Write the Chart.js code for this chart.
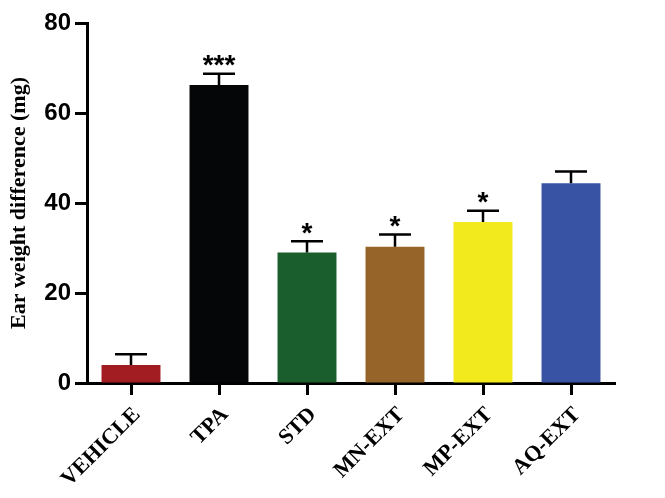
<!DOCTYPE html>
<html lang="en">
  <head>
    <meta charset="UTF-8" />
    <title>Ear weight difference</title>
    <script src="https://cdn.jsdelivr.net/npm/chart.js@4.4.0/dist/chart.umd.min.js"></script>
    <style>
      body { margin: 0; background: #fff; }
      #wrap { width: 665px; height: 498px; }
    </style>
  </head>
  <body>
    <div id="wrap">
      <canvas id="myChart" width="665" height="498"></canvas>
    </div>

    <script>
      // groups
      const groups = ["VEHICLE", "TPA", "STD", "MN-EXT", "MP-EXT", "AQ-EXT"];
      // mean ear weight difference (mg)
      const means = [4.0, 66.2, 29.0, 30.3, 35.8, 44.4];
      // error (SEM), upper only
      const errors = [2.4, 2.5, 2.5, 2.7, 2.5, 2.6];
      // significance marks
      const stars = ["", "***", "*", "*", "*", ""];
      const barColors = ["#a21d21", "#050608", "#1b5e2e", "#966428", "#f2ea1d", "#3953a4"];
      const yTicks = [0, 20, 40, 60, 80];

      // draws error bars + stars above each bar
      const errorBarPlugin = {
        id: "errorBars",
        afterDatasetsDraw(chart) {
          const ctx = chart.ctx;
          const meta = chart.getDatasetMeta(0);
          const y = chart.scales.y;
          ctx.save();
          ctx.strokeStyle = "#000";
          ctx.lineWidth = 2.5;
          meta.data.forEach((bar, i) => {
            const top = y.getPixelForValue(means[i] + errors[i]);
            const base = y.getPixelForValue(means[i]);
            ctx.beginPath();
            ctx.moveTo(bar.x, base);
            ctx.lineTo(bar.x, top);
            ctx.moveTo(bar.x - 16, top);
            ctx.lineTo(bar.x + 16, top);
            ctx.stroke();
            if (stars[i]) {
              ctx.font = "bold 28px 'Liberation Sans', Arial, sans-serif";
              ctx.fillStyle = "#000";
              ctx.textAlign = "center";
              ctx.textBaseline = "alphabetic";
              const m = ctx.measureText(stars[i]);
              const mid = (m.actualBoundingBoxAscent - m.actualBoundingBoxDescent) / 2;
              ctx.fillText(stars[i], bar.x, top - 13 + mid);
            }
          });
          ctx.restore();
        },
      };

      const ctx = document.getElementById("myChart").getContext("2d");
      const myChart = new Chart(ctx, {
        type: "bar",
        data: {
          labels: groups,
          datasets: [
            {
              data: means,
              backgroundColor: barColors,
              borderWidth: 0,
              barPercentage: 0.67,
              categoryPercentage: 1.0,
            },
          ],
        },
        options: {
          responsive: false,
          animation: false,
          layout: { padding: { top: 23, right: 50, left: 6, bottom: 0 } },
          plugins: { legend: { display: false }, tooltip: { enabled: false } },
          scales: {
            x: {
              offset: true,
              border: { color: "#000", width: 3 },
              grid: {
                drawOnChartArea: false,
                drawTicks: true,
                tickLength: 12,
                tickWidth: 3,
                tickColor: "#000",
                offset: false,
              },
              ticks: {
                color: "#000",
                maxRotation: 45,
                minRotation: 45,
                padding: 7,
                labelOffset: 6,
                font: { family: "'Liberation Serif', 'Times New Roman', serif", weight: "bold", size: 22 },
              },
              afterFit(scale) { scale.height = 115; },
            },
            y: {
              min: 0,
              max: 80,
              border: { color: "#000", width: 3 },
              grid: {
                drawOnChartArea: false,
                drawTicks: true,
                tickLength: 12,
                tickWidth: 3,
                tickColor: "#000",
              },
              afterBuildTicks(scale) {
                scale.ticks = yTicks.map((v) => ({ value: v }));
              },
              ticks: {
                color: "#000",
                padding: 4,
                font: { family: "'Liberation Sans', Arial, sans-serif", weight: "bold", size: 24 },
              },
              title: {
                display: true,
                text: "Ear weight difference (mg)",
                color: "#000",
                padding: { top: 0, bottom: 0 },
                font: { family: "'Liberation Serif', 'Times New Roman', serif", weight: "bold", size: 22 },
              },
              afterFit(scale) { scale.width = 81; },
            },
          },
        },
        plugins: [errorBarPlugin],
      });
    </script>
  </body>
</html>
